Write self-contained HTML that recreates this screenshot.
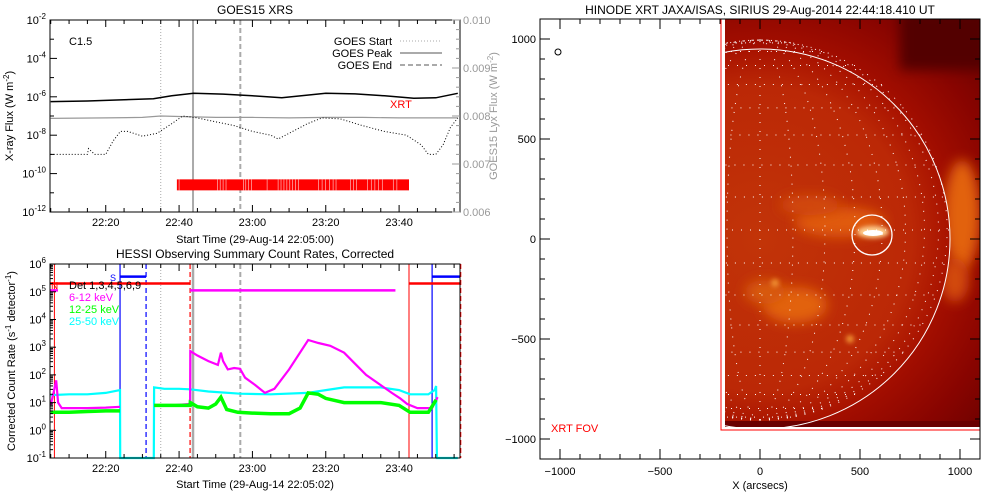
<!DOCTYPE html>
<html><head><meta charset="utf-8"><style>
html,body{margin:0;padding:0;background:#fff;}
svg{display:block;font-family:"Liberation Sans",sans-serif;}
</style></head><body>
<svg id="c" width="1000" height="500" viewBox="0 0 1000 500">
<defs>
<clipPath id="imgclip"><rect x="725" y="19" width="255" height="408"/></clipPath>
<filter id="bl" x="-50%" y="-50%" width="200%" height="200%"><feGaussianBlur stdDeviation="6"/></filter>
<filter id="bl2" x="-50%" y="-50%" width="200%" height="200%"><feGaussianBlur stdDeviation="2.5"/></filter>
<radialGradient id="corona" cx="760" cy="239" r="330" gradientUnits="userSpaceOnUse">
<stop offset="0.55" stop-color="#a81000"/><stop offset="0.75" stop-color="#880400"/><stop offset="1" stop-color="#5a0000"/>
</radialGradient>
<radialGradient id="disk" cx="760" cy="239" r="190" gradientUnits="userSpaceOnUse">
<stop offset="0" stop-color="#c23408"/><stop offset="0.8" stop-color="#bb2806"/><stop offset="1" stop-color="#a81200"/>
</radialGradient>
</defs>
<g id="topPanel"></g>
<g id="botPanel"></g>
<g id="imgPanel"></g>
</svg>
<script>
// ---------- data ----------
const goesLongT = [5,15,25,33,38,44,52,60,68,80,88,96,104,110,116];
const goesLongLog = [-6.25,-6.22,-6.15,-6.1,-5.95,-5.82,-5.86,-5.95,-6.05,-5.82,-5.85,-5.95,-6.08,-6.05,-5.82];
const lyxT = [5,20,30,35,40,50,60,70,80,90,100,110,116];
const lyxVal = [0.00795,0.00796,0.00797,0.00800,0.00799,0.00797,0.00797,0.00796,0.00797,0.00797,0.00796,0.00796,0.00796];
const goesShortT = [5,12,15,15.3,17,20,22,24,26,30,34,38,41,45,50,55,60,65,67,70,75,79,84,90,96,102,106,108,110,112,114,116];
const goesShortLog = [-9.0,-9.0,-9.0,-8.7,-9.0,-9.0,-8.3,-7.8,-7.8,-8.05,-7.9,-7.4,-7.0,-7.1,-7.3,-7.5,-7.8,-8.0,-8.2,-7.9,-7.4,-7.1,-7.15,-7.5,-7.8,-8.0,-8.5,-9.0,-9.0,-8.5,-7.6,-7.1];
const xrtBarStart = 39.4, xrtBarEnd = 102.7;
const xrtGapT = [40,50.5,51.2,52,52.8,57.5,58.2,59,59.8,64,67,67.8,68.6,69.4,70.2,71,71.8,72.6,78,79,80,81,82,82.8,86.8,87.6,88.4,91.4,92.4,93.4,94.4,95.4,98.4,99.4];
const goesStart = 35, goesPeak = 43.8, goesEnd = 56.7;
const topTickLabels = ["22:20","22:40","23:00","23:20","23:40"];
const topTickT = [20,40,60,80,100];

const magT = [5,6,6.5,7,8,10,15,20,23.9,null,33.2,38,43,43.05,45,48,50.6,51.4,52,53.3,55,56.6,58,60.7,63.4,66,70,75.2,78,81.2,85,88,91,94.8,98,100.3,102.2,105,109,110.5];
const magLog = [0.9,1.5,1.8,1.0,0.8,0.8,0.8,0.82,0.85,null,0.9,0.9,0.95,2.86,2.7,2.5,2.36,2.8,2.5,2.2,2.25,2.22,1.9,1.64,1.35,1.5,2.2,3.26,3.15,3.05,2.8,2.4,2.0,1.65,1.35,1.15,0.95,0.8,0.8,1.2];
const cyanT = [5,10,15,20,23.9,23.95,33.1,33.2,36,40,43,48,56.6,65,75,80,85,90,95,100,103,108,109.7,110.1,110.3,116];
const cyanLog = [1.27,1.3,1.3,1.35,1.45,-1,-1,1.55,1.5,1.5,1.48,1.4,1.32,1.3,1.35,1.45,1.55,1.55,1.55,1.45,1.3,1.3,1.45,1.6,-1,-1];
const greenT = [5,10,15,20,23.9,null,33.2,43,43.05,45,48,50,51.4,53,56,60,65,70,73,75.2,78,80,85,90,95,100,103,108,110.1];
const greenLog = [0.65,0.65,0.68,0.7,0.7,null,0.9,0.9,1.0,0.85,0.8,0.95,1.2,0.75,0.65,0.62,0.6,0.6,0.8,1.35,1.3,1.15,1.0,1.0,1.0,0.9,0.65,0.65,1.1];
const nightT = [6.0, 102.7]; const nightDashT = [43.0, 116.8];
const saaT = [23.9, 109.0]; const saaDashT = [31.0];
const flagRedLog = 5.3, flagMagLog = 5.05, flagBlueLog = 5.55;

const imgXTicks = [-1000,-500,0,500,1000];
const imgYTicks = [1000,500,0,-500,-1000];
const sunR = 950, flareX = 560, flareY = 20, flareR = 100;

// ---------- helpers ----------
const NS="http://www.w3.org/2000/svg";
function mk(parent,tag,attrs,text){const el=document.createElementNS(NS,tag);for(const k in attrs)el.setAttribute(k,attrs[k]);if(text!==undefined)el.textContent=text;parent.appendChild(el);return el;}
const tx = t => 50 + (t-4.8)*3.667;
const tyTop = l => 20 + (-2-l)*19.2;
const tyLyx = v => 212 - (v-0.006)*48000;
const tyBot = l => 458 - (l+1)*27.7;
function pathFrom(ts,vs,fx,fy){let d="",pen=false;for(let i=0;i<ts.length;i++){if(ts[i]===null){pen=false;continue;}d+=(pen?"L":"M")+fx(ts[i]).toFixed(1)+","+fy(vs[i]).toFixed(1);pen=true;}return d;}

// ---------- TOP PANEL ----------
const topG=document.getElementById('topPanel');
let e;
e=mk(topG,'text',{x:255,y:14,'font-size':12,'text-anchor':'middle'},'GOES15 XRS');

e=mk(topG,'line',{x1:tx(goesStart),x2:tx(goesStart),y1:20,y2:212,stroke:'#aaa','stroke-dasharray':'1 2'});

e=mk(topG,'line',{x1:tx(goesPeak),x2:tx(goesPeak),y1:20,y2:212,stroke:'#aaa','stroke-width':2});

e=mk(topG,'line',{x1:tx(goesEnd),x2:tx(goesEnd),y1:20,y2:212,stroke:'#aaa','stroke-width':2,'stroke-dasharray':'5 3'});

e=mk(topG,'path',{d:pathFrom(lyxT,lyxVal,tx,tyLyx),fill:'none',stroke:'#999','stroke-width':1.2});

e=mk(topG,'path',{d:pathFrom(goesLongT,goesLongLog,tx,tyTop),fill:'none',stroke:'#000','stroke-width':1.5});

e=mk(topG,'path',{d:pathFrom(goesShortT,goesShortLog,tx,tyTop),fill:'none',stroke:'#000','stroke-width':1,'stroke-dasharray':'1 2'});

e=mk(topG,'rect',{x:tx(xrtBarStart),y:tyTop(-10.3),width:tx(xrtBarEnd)-tx(xrtBarStart),height:11,fill:'#f00'});

xrtGapT.forEach(t=>{const g=mk(topG,'line',{x1:tx(t),x2:tx(t),y1:tyTop(-10.3),y2:tyTop(-10.3)+11,stroke:'#fff','stroke-width':0.5});

});
e=mk(topG,'text',{x:390,y:108,'font-size':11,fill:'#f00'},'XRT');

e=mk(topG,'text',{x:69,y:45,'font-size':11},'C1.5');

[['GOES Start','1 2',1],['GOES Peak',null,2],['GOES End','5 3',2]].forEach((L,i)=>{
 const y=41+i*12;
 const t=mk(topG,'text',{x:392,y:y+4,'font-size':11,'text-anchor':'end'},L[0]);
 
 
 const a={x1:400,x2:442,y1:y,y2:y,stroke:'#aaa','stroke-width':L[2]};if(L[1])a['stroke-dasharray']=L[1];
 const ln=mk(topG,'line',a);
 
 
});
e=mk(topG,'rect',{x:50,y:20,width:410,height:192,fill:'none',stroke:'#000'});

for(let t=5;t<=115;t+=5){const maj=topTickT.includes(t);const x=tx(t);mk(topG,'line',{x1:x,x2:x,y1:212,y2:212-(maj?7:4),stroke:'#000'});mk(topG,'line',{x1:x,x2:x,y1:20,y2:20+(maj?7:4),stroke:'#000'});}
topTickT.forEach((t,i)=>{const l=mk(topG,'text',{x:tx(t),y:226,'font-size':11,'text-anchor':'middle'},topTickLabels[i]);

});
for(let d=-12;d<=-2;d++){const y=tyTop(d);mk(topG,'line',{x1:50,x2:d%2==0?57:54,y1:y,y2:y,stroke:'#000'});
 if(d%2==0){const l=mk(topG,'text',{x:46,y:y+4,'font-size':11,'text-anchor':'end'});l.innerHTML='10<tspan dy="-5" font-size="8">'+d+'</tspan>';
 
 }}
for(let v=0;v<=4;v++){const y=212-v*48;mk(topG,'line',{x1:460,x2:452,y1:y,y2:y,stroke:'#999'});
 for(let m=1;m<5&&v<4;m++){const ym=y-m*9.6;mk(topG,'line',{x1:460,x2:456,y1:ym,y2:ym,stroke:'#999'});}
 const l=mk(topG,'text',{x:463,y:y+4,'font-size':11,fill:'#999'},(0.006+v*0.001).toFixed(3));
 
 }
e=mk(topG,'text',{x:255,y:243,'font-size':11,'text-anchor':'middle'},'Start Time (29-Aug-14 22:05:00)');

e=mk(topG,'text',{transform:'translate(13,116) rotate(-90)','font-size':11,'text-anchor':'middle'});
e.innerHTML='X-ray Flux (W m<tspan dy="-4" font-size="8">-2</tspan><tspan dy="4">)</tspan>';

e=mk(topG,'text',{transform:'translate(497,116) rotate(-90)','font-size':11,'text-anchor':'middle',fill:'#999'});
e.innerHTML='GOES15 Lyx Flux (W m<tspan dy="-4" font-size="8">-2</tspan><tspan dy="4">)</tspan>';


// ---------- BOTTOM PANEL ----------
const botG=document.getElementById('botPanel');
e=mk(botG,'text',{x:255,y:258,'font-size':12,'text-anchor':'middle'},'HESSI Observing Summary Count Rates, Corrected');

function vline(t,col,w,dash,name){const a={x1:tx(t),x2:tx(t),y1:264,y2:458,stroke:col,'stroke-width':w};if(dash)a['stroke-dasharray']=dash;const l=mk(botG,'line',a);}
vline(goesStart,'#aaa',1,'1 2','goes-start-line');
vline(goesPeak,'#aaa',2.5,null,'goes-peak-line');
vline(goesEnd,'#aaa',2,'5 3','goes-end-line');
nightT.forEach(t=>vline(t,'#f00',1,null,'night-start-line'));
nightDashT.forEach(t=>vline(t,'#f00',1.2,'5 3','night-end-line'));
saaT.forEach(t=>vline(t,'#00f',1.2,null,'saa-start-line'));
saaDashT.forEach(t=>vline(t,'#00f',1.2,'5 3','saa-end-line'));
e=mk(botG,'path',{d:`M50,${tyBot(flagRedLog)}H${tx(43)}M${tx(102.7)},${tyBot(flagRedLog)}H460`,stroke:'#f00','stroke-width':2.5,fill:'none'});

e=mk(botG,'path',{d:`M${tx(23.9)},${tyBot(flagBlueLog)}H${tx(31)}M${tx(109)},${tyBot(flagBlueLog)}H460`,stroke:'#00f','stroke-width':2.5,fill:'none'});

e=mk(botG,'path',{d:`M50,${tyBot(flagMagLog)}H58M${tx(43)},${tyBot(flagMagLog)}H${tx(99)}`,stroke:'#f0f','stroke-width':2.5,fill:'none'});

e=mk(botG,'text',{x:51,y:289,'font-size':10,fill:'#f00'},'N');

e=mk(botG,'text',{x:110,y:281,'font-size':9,fill:'#00f'},'S');

e=mk(botG,'path',{d:pathFrom(cyanT,cyanLog,tx,tyBot),fill:'none',stroke:'#0ff','stroke-width':2.2});

e=mk(botG,'path',{d:pathFrom(magT,magLog,tx,tyBot),fill:'none',stroke:'#f0f','stroke-width':2.2});

e=mk(botG,'path',{d:pathFrom(greenT,greenLog,tx,tyBot),fill:'none',stroke:'#0f0','stroke-width':3.5});

[['Det 1,3,4,5,6,9','#000'],['6-12 keV','#f0f'],['12-25 keV','#0f0'],['25-50 keV','#0ff']].forEach((L,i)=>{
 const t=mk(botG,'text',{x:69,y:289+i*12,'font-size':11,fill:L[1]},L[0]);
 
 });
e=mk(botG,'rect',{x:50,y:264,width:410,height:194,fill:'none',stroke:'#000'});

for(let t=5;t<=115;t+=5){const maj=topTickT.includes(t);const x=tx(t);mk(botG,'line',{x1:x,x2:x,y1:458,y2:458-(maj?7:4),stroke:'#000'});mk(botG,'line',{x1:x,x2:x,y1:264,y2:264+(maj?7:4),stroke:'#000'});}
topTickT.forEach((t,i)=>{const l=mk(botG,'text',{x:tx(t),y:472,'font-size':11,'text-anchor':'middle'},topTickLabels[i]);

});
for(let d=-1;d<=6;d++){const y=tyBot(d);mk(botG,'line',{x1:50,x2:56,y1:y,y2:y,stroke:'#000'});
 if(d<6)for(let m=2;m<10;m++){const ym=tyBot(d+Math.log10(m));mk(botG,'line',{x1:50,x2:53,y1:ym,y2:ym,stroke:'#000'});}
 const l=mk(botG,'text',{x:46,y:y+4,'font-size':11,'text-anchor':'end'});l.innerHTML='10<tspan dy="-5" font-size="8">'+d+'</tspan>';
 
 }
e=mk(botG,'text',{x:255,y:488,'font-size':11,'text-anchor':'middle'},'Start Time (29-Aug-14 22:05:02)');

e=mk(botG,'text',{transform:'translate(15,361) rotate(-90)','font-size':11,'text-anchor':'middle'});
e.innerHTML='Corrected Count Rate (s<tspan dy="-4" font-size="8">-1</tspan><tspan dy="4"> detector</tspan><tspan dy="-4" font-size="8">-1</tspan><tspan dy="4">)</tspan>';


// ---------- IMAGE PANEL ----------
const imgG=document.getElementById('imgPanel');
const ax = a => 760 + a*0.2, ay = a => 239 - a*0.2;
e=mk(imgG,'text',{x:760,y:14,'font-size':12,'text-anchor':'middle'},'HINODE XRT JAXA/ISAS, SIRIUS 29-Aug-2014 22:44:18.410 UT');

const ig=mk(imgG,'g',{'clip-path':'url(#imgclip)'});

mk(ig,'rect',{x:725,y:19,width:255,height:408,fill:'url(#corona)'});
mk(ig,'rect',{x:900,y:10,width:90,height:60,fill:'#520000',filter:'url(#bl)'});
mk(ig,'ellipse',{cx:962,cy:215,rx:18,ry:55,fill:'#e2620e',filter:'url(#bl)'});
mk(ig,'ellipse',{cx:955,cy:280,rx:14,ry:22,fill:'#d24a0a',filter:'url(#bl)'});
mk(ig,'circle',{cx:ax(0),cy:ay(0),r:sunR*0.2,fill:'url(#disk)'});
mk(ig,'ellipse',{cx:840,cy:222,rx:45,ry:15,fill:'#e05a0c',filter:'url(#bl)'});
mk(ig,'ellipse',{cx:810,cy:205,rx:30,ry:10,fill:'#d24a0a',filter:'url(#bl)'});
mk(ig,'ellipse',{cx:795,cy:305,rx:32,ry:18,fill:'#e2620e',filter:'url(#bl)'});
mk(ig,'ellipse',{cx:765,cy:292,rx:20,ry:12,fill:'#d85a0c',filter:'url(#bl)'});
mk(ig,'circle',{cx:775,cy:283,r:4,fill:'#f09030',filter:'url(#bl2)'});
mk(ig,'circle',{cx:850,cy:339,r:4,fill:'#f09030',filter:'url(#bl2)'});
mk(ig,'ellipse',{cx:873,cy:232,rx:16,ry:6,fill:'#ffd090',filter:'url(#bl2)'});
mk(ig,'ellipse',{cx:873,cy:233,rx:10,ry:3,fill:'#fff'});
mk(ig,'rect',{x:725,y:421,width:255,height:6,fill:'#6a0000'});
const R=sunR*0.2, cx0=ax(0), cy0=ay(0)-9;
for(let lat=-80;lat<=80;lat+=10){const s=Math.sin(lat*Math.PI/180),c=Math.cos(lat*Math.PI/180);
 mk(ig,'line',{x1:cx0-R*c,x2:cx0+R*c,y1:cy0-R*s,y2:cy0-R*s,stroke:'#fff','stroke-width':1,'stroke-dasharray':'1 8'});}
for(let lon=-80;lon<=80;lon+=10){let d="";for(let la=-90;la<=90;la+=3){const r=la*Math.PI/180;d+=(la==-90?"M":"L")+(cx0+R*Math.sin(lon*Math.PI/180)*Math.cos(r)).toFixed(1)+","+(cy0-R*Math.sin(r)).toFixed(1);}
 mk(ig,'path',{d:d,fill:'none',stroke:'#fff','stroke-width':1,'stroke-dasharray':'1 8'});}
e=mk(ig,'circle',{cx:ax(0),cy:ay(0),r:R,fill:'none',stroke:'#fff','stroke-width':1});

e=mk(imgG,'circle',{cx:ax(flareX),cy:ay(flareY),r:flareR*0.2,fill:'none',stroke:'#fff','stroke-width':1.3});

e=mk(imgG,'rect',{x:721,y:19,width:259,height:411,fill:'none',stroke:'#f00','stroke-width':1});

e=mk(imgG,'text',{x:551,y:432,'font-size':11,fill:'#f00'},'XRT FOV');

e=mk(imgG,'circle',{cx:558,cy:52,r:3,fill:'none',stroke:'#000'});

e=mk(imgG,'rect',{x:540,y:19,width:440,height:440,fill:'none',stroke:'#000'});

for(let v=-1100;v<=1100;v+=100){const maj=v%500==0;const x=ax(v),y=ay(v);
 mk(imgG,'line',{x1:x,x2:x,y1:459,y2:459-(maj?10:5),stroke:'#000'});mk(imgG,'line',{x1:x,x2:x,y1:19,y2:19+(maj?10:5),stroke:'#000'});
 mk(imgG,'line',{x1:540,x2:540+(maj?10:5),y1:y,y2:y,stroke:'#000'});mk(imgG,'line',{x1:980,x2:980-(maj?10:5),y1:y,y2:y,stroke:'#000'});}
imgXTicks.forEach(v=>{const l=mk(imgG,'text',{x:ax(v),y:475,'font-size':11,'text-anchor':'middle'},String(v).replace('-','\u2212'));

});
imgYTicks.forEach(v=>{const l=mk(imgG,'text',{x:536,y:ay(v)+4,'font-size':11,'text-anchor':'end'},String(v).replace('-','\u2212'));

});
e=mk(imgG,'text',{x:760,y:489,'font-size':11,'text-anchor':'middle'},'X (arcsecs)');

</script>
</body></html>
